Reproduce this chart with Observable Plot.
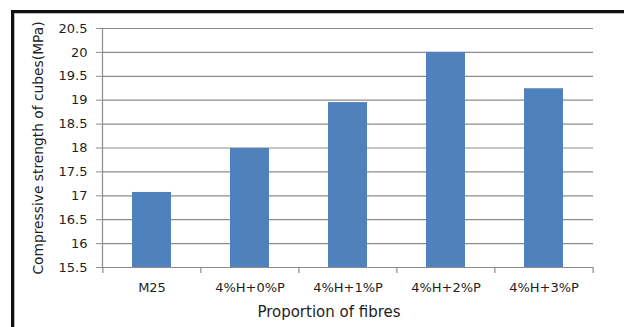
<!DOCTYPE html>
<html>
<head>
<meta charset="utf-8">
<script src="https://cdn.jsdelivr.net/npm/d3@7"></script>
<script src="https://cdn.jsdelivr.net/npm/@observablehq/plot@0.6"></script>
<style>
  html, body { margin: 0; padding: 0; background: #fff; }
  #wrap { position: relative; width: 624px; height: 327px; overflow: hidden; background: #fff; }
  #border { position: absolute; left: 11px; top: 10px; right: 0; bottom: 0;
            border-top: 3px solid #111; border-left: 3px solid #111; box-shadow: inset 1px 1px 0 #bbb; }
  #chart { position: absolute; left: 0; top: 0; }
</style>
</head>
<body>
<div id="wrap"><div id="border"></div><div id="chart"></div></div>
<script>
const categories = ["M25", "4%H+0%P", "4%H+1%P", "4%H+2%P", "4%H+3%P"];
const strength = [17.07, 17.99, 18.95, 20.0, 19.24];
const yTicks = [15.5, 16, 16.5, 17, 17.5, 18, 18.5, 19, 19.5, 20, 20.5];
const xTitle = "Proportion of fibres";
const yTitle = "Compressive strength of cubes(MPa)";

const data = categories.map((c, i) => ({cat: c, value: strength[i]}));

const W = 624, H = 327, mL = 102, mR = 31, mT = 28, mB = 60;
const step = (W - mL - mR) / categories.length;
const yMin = yTicks[0], yMax = yTicks[yTicks.length - 1];
const gridColor = "#8c8c8c";
const textColor = "#1e1e1e";

const plot = Plot.plot({
  width: W, height: H,
  marginLeft: mL, marginRight: mR, marginTop: mT, marginBottom: mB,
  style: {fontFamily: "DejaVu Sans", fontSize: "13px", color: textColor, background: "transparent"},
  x: {domain: categories, paddingInner: 0.6, paddingOuter: 0.3, axis: null},
  y: {domain: [yMin, yMax], axis: null},
  marks: [
    Plot.ruleY(yTicks, {stroke: gridColor, strokeWidth: 1.2}),
    Plot.barY(data, {x: "cat", y1: yMin, y2: "value", fill: "#4f81bd"}),
    Plot.frame({anchor: "left", stroke: gridColor, strokeWidth: 1.2}),
    Plot.axisY({ticks: yTicks, tickSize: 6, tickPadding: 9, tickFormat: d => String(d),
                stroke: gridColor, fill: textColor, label: null, fontSize: 13}),
    Plot.axisX({tickSize: 0, tickPadding: 15, label: null, fill: textColor, fontSize: 13}),
    Plot.ruleX(categories, {x: d => d, dx: -step / 2, y1: yMin, y2: yMin, insetBottom: -6, stroke: gridColor, strokeWidth: 1.2}),
    Plot.ruleX(categories.slice(-1), {x: d => d, dx: step / 2, y1: yMin, y2: yMin, insetBottom: -6, stroke: gridColor, strokeWidth: 1.2}),
    Plot.text([xTitle], {frameAnchor: "bottom", dy: 49, dx: -19, fontSize: 15, fill: textColor}),
    Plot.text([yTitle], {frameAnchor: "left", textAnchor: "middle", dx: -64, rotate: -90, fontSize: 13.8, fill: textColor})
  ]
});
document.getElementById("chart").appendChild(plot);
</script>
</body>
</html>
